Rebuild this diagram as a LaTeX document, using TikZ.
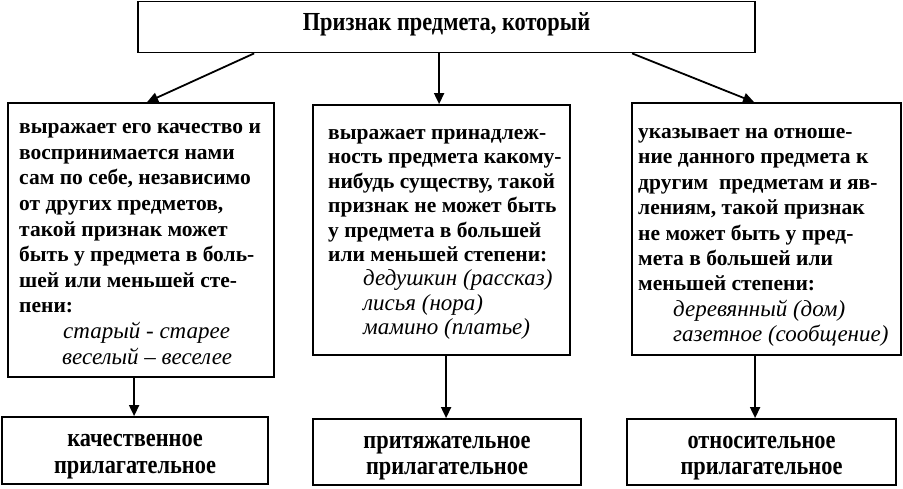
\documentclass[tikz,border=0pt]{standalone}
\usepackage{fontspec}
\setmainfont{Liberation Serif}
\newfontfamily\narrowfont[FakeStretch=0.86]{Liberation Serif}
\usetikzlibrary{arrows.meta}
\newcommand{\exi}[1]{{\mdseries\itshape\fontsize{23}{25}\selectfont #1}}
\begin{document}
\begin{tikzpicture}[x=1pt,y=-1pt,
  box/.style={draw, line width=1.8pt, rectangle, inner sep=0pt},
  arr/.style={line width=1.8pt, -{Triangle[length=11pt,width=10pt]}},
  body/.style={font=\bfseries\fontsize{21.5}{25.6}\selectfont, align=left, inner sep=0pt, anchor=west},
  headtext/.style={font=\narrowfont\bfseries\fontsize{26}{26.7}\selectfont, align=center, inner sep=0pt}
]
\useasboundingbox (0,0) rectangle (903,488);

% top
\node[box, minimum width=617pt, minimum height=51pt] (top) at (446.5,27) {};
\node[headtext, yshift=3pt] (toptext) at (top.center) {Признак предмета, который};

% middle row boxes
\node[box, minimum width=266pt, minimum height=274pt] (lbox) at (141,240) {};
\node[box, minimum width=257pt, minimum height=250pt] (mbox) at (441.5,230) {};
\node[box, minimum width=269pt, minimum height=252pt] (rbox) at (766.5,229) {};

\node[body] (ltext) at (19,244) {выражает его качество и\\
воспринимается нами\\
сам по себе, независимо\\
от других предметов,\\
такой признак может\\
быть у предмета в боль-\\
шей или меньшей сте-\\
пени:\\
\hspace*{44pt}\exi{старый - старее}\\
\hspace*{43pt}\exi{веселый – веселее}};

\node[body, font=\bfseries\fontsize{21.5}{24.4}\selectfont] (mtext) at (328,234.5) {выражает принадлеж-\\
ность предмета какому-\\
нибудь существу, такой\\
признак не может быть\\
у предмета в большей\\
или меньшей степени:\\
\hspace*{35pt}\exi{дедушкин (рассказ)}\\
\hspace*{35pt}\exi{лисья (нора)}\\
\hspace*{35pt}\exi{мамино (платье)}};

\node[body, font=\bfseries\fontsize{21.5}{25.4}\selectfont] (rtext) at (638,237.5) {указывает на отноше-\\
ние данного предмета к\\
другим\ \ предметам и яв-\\
лениям, такой признак\\
не может быть у пред-\\
мета в большей или\\
меньшей степени:\\
\hspace*{35pt}\exi{деревянный (дом)}\\
\hspace*{35pt}\exi{газетное (сообщение)}};

% bottom boxes
\node[box, minimum width=266pt, minimum height=67pt] (qual) at (135,450.5) {};
\node[box, minimum width=268pt, minimum height=66pt] (poss) at (447,452) {};
\node[box, minimum width=269pt, minimum height=66pt] (rel) at (761.5,452) {};
\node[headtext, yshift=-6pt] (qualtext) at (qual.center) {качественное\\прилагательное};
\node[headtext, yshift=-6pt] (posstext) at (poss.center) {притяжательное\\прилагательное};
\node[headtext, yshift=-6pt] (reltext) at (rel.center) {относительное\\прилагательное};

% arrows from top
\coordinate (t1) at ([xshift=117pt]top.south west);
\coordinate (t2) at ([xshift=302pt]top.south west);
\coordinate (t3) at ([xshift=495pt]top.south west);
\coordinate (e1) at ([xshift=140pt]lbox.north west);
\coordinate (e2) at ([xshift=127pt]mbox.north west);
\coordinate (e3) at ([xshift=123pt]rbox.north west);
\draw[arr] (t1) -- (e1);
\draw[arr] (t2) -- (e2);
\draw[arr] (t3) -- (e3);

% arrows to bottom
\coordinate (b1) at ([xshift=127pt]lbox.south west);
\coordinate (b2) at ([xshift=134pt]mbox.south west);
\coordinate (b3) at ([xshift=124pt]rbox.south west);
\draw[arr] (b1) -- (b1 |- qual.north);
\draw[arr] (b2) -- (b2 |- poss.north);
\draw[arr] (b3) -- (b3 |- rel.north);
\end{tikzpicture}
\end{document}
